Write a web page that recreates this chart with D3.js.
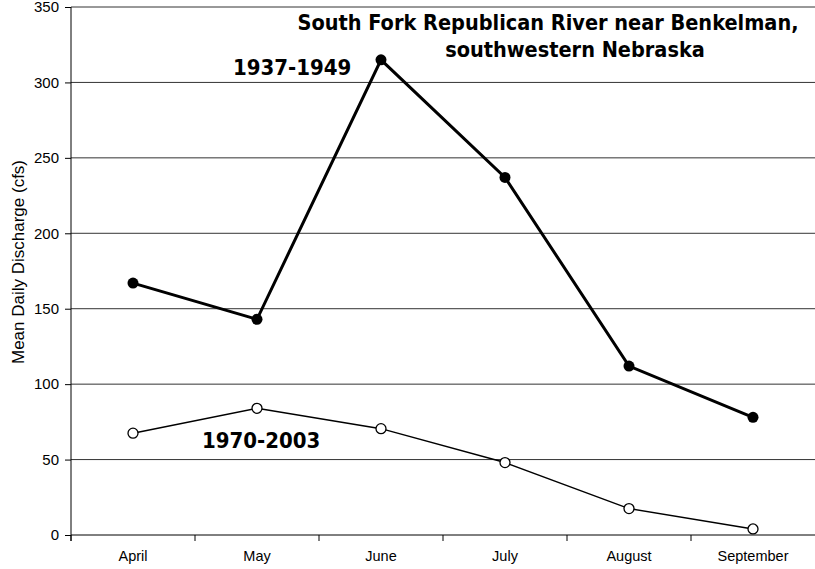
<!DOCTYPE html>
<html>
<head>
<meta charset="utf-8">
<script src="https://cdn.jsdelivr.net/npm/d3@7"></script>
<style>
  body { margin: 0; background: #fff; }
  svg { display: block; }
</style>
</head>
<body>
<div id="chart"></div>
<script>
var months = ["April", "May", "June", "July", "August", "September"];
var early = [167, 143, 315, 237, 112, 78];      // 1937-1949
var late = [67.5, 84, 70.5, 48, 17.5, 4];       // 1970-2003
var yTicks = [0, 50, 100, 150, 200, 250, 300, 350];

var drawChart = function () {
    var width = 815, height = 569;
    var mLeft = 71, mRight = 815, mTop = 7, mBottom = 535;
    var axisFont = 'Liberation Sans, Arial, sans-serif';
    var boldFont = 'DejaVu Sans Condensed, DejaVu Sans, sans-serif';

    var svg = d3.select('#chart')
        .append('svg')
        .attr('width', width)
        .attr('height', height);

    var x = d3.scaleBand()
        .domain(months)
        .range([mLeft, mRight]);

    var y = d3.scaleLinear()
        .domain([0, 350])
        .range([mBottom, mTop]);

    var cx = function (d, i) { return x(months[i]) + x.bandwidth() / 2; };

    // gridlines
    svg.append('g')
        .selectAll('line')
        .data(yTicks.filter(function (d) { return d > 0; }))
        .enter().append('line')
        .attr('x1', mLeft)
        .attr('x2', mRight)
        .attr('y1', function (d) { return y(d); })
        .attr('y2', function (d) { return y(d); })
        .style('stroke', '#333')
        .style('stroke-width', 1);

    // y axis
    var yAxis = svg.append('g')
        .attr('transform', 'translate(' + mLeft + ',0)')
        .call(d3.axisLeft(y).tickValues(yTicks).tickSize(6).tickPadding(6));
    yAxis.select('.domain').attr('d', 'M0,' + mTop + 'V' + (mBottom + 6));
    yAxis.selectAll('.tick text').attr('font-size', 15);

    // x axis, ticks on the band edges
    var xAxis = svg.append('g')
        .attr('transform', 'translate(0,' + mBottom + ')')
        .call(d3.axisBottom(x).tickSize(0).tickPadding(16));
    xAxis.select('.domain').attr('d', 'M' + mLeft + ',0H' + mRight);
    xAxis.selectAll('.edge')
        .data(months)
        .enter().append('line')
        .attr('class', 'edge')
        .attr('x1', function (d) { return x(d); })
        .attr('x2', function (d) { return x(d); })
        .attr('y1', 0)
        .attr('y2', 6)
        .style('stroke', '#000');
    xAxis.selectAll('.tick text').attr('font-size', 14.5);

    svg.selectAll('.tick text')
        .attr('font-family', axisFont)
        .attr('fill', '#000');
    svg.selectAll('.tick line, .domain').style('stroke', '#000');

    svg.append('text')
        .attr('transform', 'translate(18,262) rotate(-90)')
        .attr('text-anchor', 'middle')
        .attr('dominant-baseline', 'central')
        .attr('font-family', axisFont)
        .attr('font-size', 17)
        .text('Mean Daily Discharge (cfs)');

    var line = d3.line()
        .x(cx)
        .y(function (d) { return y(d); });

    // 1970-2003: thin line, open markers
    svg.append('path')
        .datum(late)
        .attr('d', line)
        .style('fill', 'none')
        .style('stroke', '#000')
        .style('stroke-width', 1.5);
    svg.append('g').selectAll('circle')
        .data(late)
        .enter().append('circle')
        .attr('cx', cx)
        .attr('cy', function (d) { return y(d); })
        .attr('r', 5)
        .style('fill', '#fff')
        .style('stroke', '#000')
        .style('stroke-width', 1.3);

    // 1937-1949: thick line, filled markers
    svg.append('path')
        .datum(early)
        .attr('d', line)
        .style('fill', 'none')
        .style('stroke', '#000')
        .style('stroke-width', 3);
    svg.append('g').selectAll('circle')
        .data(early)
        .enter().append('circle')
        .attr('cx', cx)
        .attr('cy', function (d) { return y(d); })
        .attr('r', 5.5)
        .style('fill', '#000');

    var label = function (txt, lx, ly) {
        svg.append('text')
            .attr('x', lx).attr('y', ly)
            .attr('font-family', boldFont)
            .attr('font-weight', 'bold')
            .attr('font-size', 22)
            .text(txt);
    };
    label('1937-1949', 233, 75);
    label('1970-2003', 202, 448);

    var title = svg.append('text')
        .attr('font-family', boldFont)
        .attr('font-weight', 'bold')
        .attr('font-size', 21.5)
        .attr('text-anchor', 'middle');
    title.append('tspan').attr('x', 548).attr('y', 30).text('South Fork Republican River near Benkelman,');
    title.append('tspan').attr('x', 575).attr('y', 57).text('southwestern Nebraska');
};

drawChart();
</script>
</body>
</html>
